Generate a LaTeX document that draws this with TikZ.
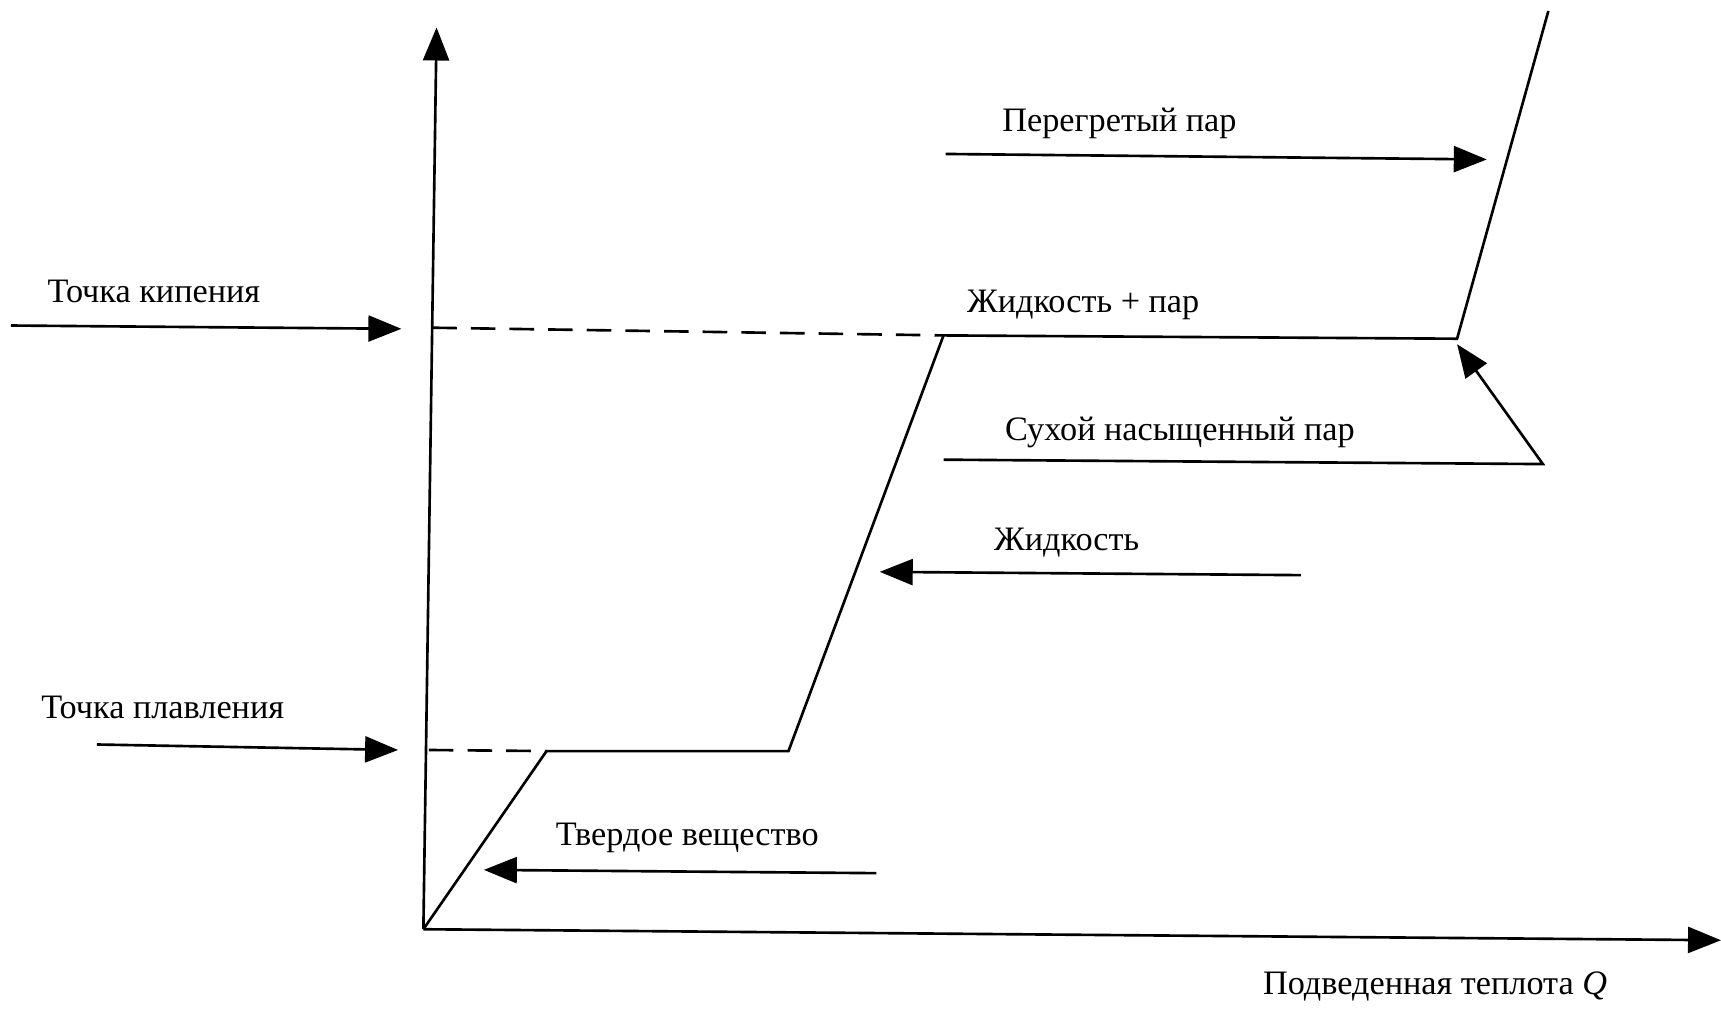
\documentclass[tikz,border=0pt]{standalone}
\usepackage{fontspec}
\setmainfont{Liberation Serif}
\usetikzlibrary{arrows.meta}
\begin{document}
\begin{tikzpicture}[x=0.022cm,y=-0.022cm,
  line width=1.5pt,
  arr/.style={-{Triangle[length=0.66cm,width=0.52cm]}},
  lbl/.style={font=\fontsize{19.5}{22}\selectfont, inner sep=0pt}]
\useasboundingbox (0,0) rectangle (1565,924);
% axes
\coordinate (O) at (385,845);
\coordinate (Ytop) at (397,25);
\coordinate (Xend) at (1565,855);
\draw[arr] (O) -- (Ytop);
\draw[arr] (O) -- (Xend);
% curve
\coordinate (A) at (497,683);
\coordinate (B) at (717,683);
\coordinate (C) at (858,305);
\coordinate (D) at (1325,308);
\coordinate (E) at (1408,10);
\draw (O) -- (A) -- (B) -- (C) -- (D) -- (E);
% dashed
\coordinate (dm) at (390,682);
\coordinate (db) at (393,298);
\draw[dashed, dash pattern=on 14pt off 8pt] (dm) -- (A);
\draw[dashed, dash pattern=on 14pt off 8pt] (db) -- (C);
% labels and arrows
\node[lbl] (tk) at (140,265) {Точка кипения};
\coordinate (tk1) at (10,296); \coordinate (tk2) at (365,299);
\draw[arr] (tk1) -- (tk2);
\node[lbl] (tp) at (148,643) {Точка плавления};
\coordinate (tp1) at (88,677); \coordinate (tp2) at (362,682);
\draw[arr] (tp1) -- (tp2);
\node[lbl] (pp) at (1018,112) {Перегретый пар};
\coordinate (pp1) at (860,140); \coordinate (pp2) at (1352,145);
\draw[arr] (pp1) -- (pp2);
\node[lbl] (zp) at (985,277) {Жидкость + пар};
\node[lbl] (sn) at (1073,393) {Сухой насыщенный пар};
\coordinate (sn1) at (858,418); \coordinate (sn2) at (1403,422); \coordinate (sn3) at (1325,313);
\draw[arr] (sn1) -- (sn2) -- (sn3);
\node[lbl] (zh) at (970,493) {Жидкость};
\coordinate (zh1) at (1183,523); \coordinate (zh2) at (800,520);
\draw[arr] (zh1) -- (zh2);
\node[lbl] (tv) at (625,762) {Твердое вещество};
\coordinate (tv1) at (797,794); \coordinate (tv2) at (440,791);
\draw[arr] (tv1) -- (tv2);
\node[lbl] (q) at (1305,897) {Подведенная теплота \textit{Q}};
\end{tikzpicture}
\end{document}
